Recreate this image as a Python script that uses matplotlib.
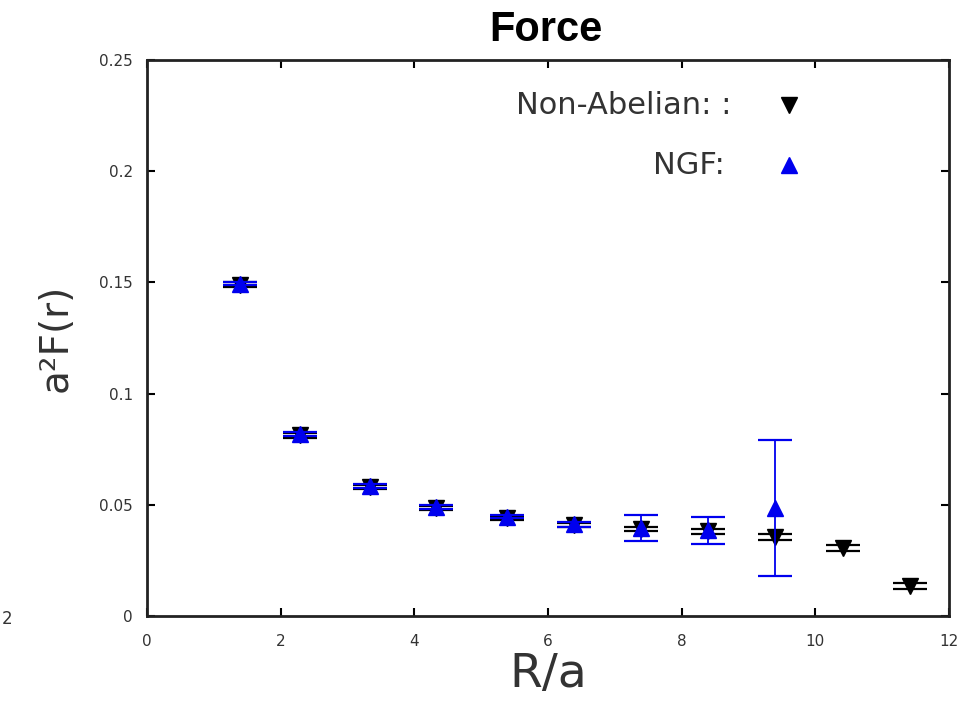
import numpy as np
import matplotlib
matplotlib.use("Agg")
import matplotlib.pyplot as plt

# separation R/a
r_nonabelian = [1.39, 2.29, 3.33, 4.33, 5.38, 6.39, 7.39, 8.39, 9.40, 10.42, 11.42]
f_nonabelian = [0.1490, 0.0812, 0.0580, 0.0485, 0.0440, 0.0408, 0.0392, 0.0380, 0.0355, 0.0306, 0.0135]
err_nonabelian = [0.0010, 0.0010, 0.0010, 0.0010, 0.0010, 0.0010, 0.0010, 0.0010, 0.0012, 0.0015, 0.0012]

r_ngf = [1.39, 2.29, 3.33, 4.33, 5.38, 6.39, 7.39, 8.39, 9.40]
f_ngf = [0.1495, 0.0818, 0.0585, 0.0490, 0.0447, 0.0412, 0.0396, 0.0385, 0.0485]
err_ngf = [0.0008, 0.0008, 0.0008, 0.0008, 0.0008, 0.0010, 0.0058, 0.0060, 0.0305]

fig = plt.figure(figsize=(9.71, 7.11), dpi=100)
ax = fig.add_axes([0.1514, 0.1336, 0.826, 0.782])

ax.errorbar(r_nonabelian, f_nonabelian, yerr=err_nonabelian, fmt="v", color="black",
            markersize=11, elinewidth=1.3, capsize=12, capthick=1.6, zorder=2)
ax.errorbar(r_ngf, f_ngf, yerr=err_ngf, fmt="^", color="#0000ee",
            markersize=11, elinewidth=1.3, capsize=12, capthick=1.6, zorder=3)

ax.set_xlim(0, 12)
ax.set_ylim(0, 0.25)
ax.set_xticks(np.arange(0, 13, 2))
ax.set_yticks([0, 0.05, 0.1, 0.15, 0.2, 0.25])
ax.set_yticklabels(["0", "0.05", "0.1", "0.15", "0.2", "0.25"])
ax.tick_params(direction="in", top=True, right=True, length=6, width=1.5,
               labelsize=11, labelcolor="#333333")
ax.tick_params(axis="x", pad=13)
ax.tick_params(axis="y", pad=10)
for spine in ax.spines.values():
    spine.set_linewidth(2)
    spine.set_color("#222222")

ax.set_xlabel("R/a", fontsize=34, color="#333333", labelpad=2)
ax.set_ylabel("a²F(r)", fontsize=28, color="#333333", labelpad=18)
fig.text(0.5625, 0.958, "Force", fontsize=30, fontweight="bold",
         family="Liberation Sans", ha="center", va="center")

# legend drawn as text + marker pairs
ax.text(0.728, 0.919, "Non-Abelian: :", transform=ax.transAxes, fontsize=22,
        color="#333333", ha="right", va="center")
ax.plot([0.800], [0.919], "v", color="black", markersize=11, transform=ax.transAxes)
ax.text(0.720, 0.811, "NGF:", transform=ax.transAxes, fontsize=22,
        color="#333333", ha="right", va="center")
ax.plot([0.800], [0.811], "^", color="#0000ee", markersize=11, transform=ax.transAxes)

fig.text(0.002, 0.130, "2", fontsize=12, color="#333333", va="center")

fig.savefig("out.png", dpi=100)
